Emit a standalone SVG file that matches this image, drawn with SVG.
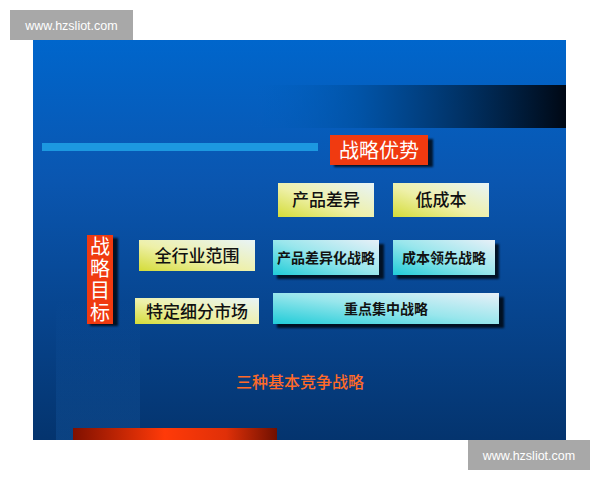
<svg xmlns="http://www.w3.org/2000/svg" width="600" height="480" viewBox="0 0 600 480">
<defs>
<linearGradient id="bg" x1="0" y1="0" x2="0" y2="1">
<stop offset="0" stop-color="#0066cc"/>
<stop offset="0.35" stop-color="#0a56b0"/>
<stop offset="1" stop-color="#04346e"/>
</linearGradient>
<linearGradient id="band" x1="0" y1="0" x2="1" y2="0">
<stop offset="0" stop-color="#0060c0" stop-opacity="0"/>
<stop offset="0.35" stop-color="#0050a0" stop-opacity="0.8"/>
<stop offset="1" stop-color="#000814"/>
</linearGradient>
<linearGradient id="yel" x1="0" y1="1" x2="1" y2="0">
<stop offset="0" stop-color="#d4dc38"/>
<stop offset="0.45" stop-color="#eef0a8"/>
<stop offset="1" stop-color="#e8f4f8"/>
</linearGradient>
<linearGradient id="cyan" x1="0" y1="1" x2="1" y2="0">
<stop offset="0" stop-color="#20ccd8"/>
<stop offset="0.5" stop-color="#98e6ec"/>
<stop offset="1" stop-color="#e8f0f8"/>
</linearGradient>
<linearGradient id="redbar" x1="0" y1="0" x2="1" y2="0">
<stop offset="0" stop-color="#801000"/>
<stop offset="0.45" stop-color="#ff3a08"/>
<stop offset="0.75" stop-color="#e03008"/>
<stop offset="1" stop-color="#701000"/>
</linearGradient>
<linearGradient id="strip" x1="0" y1="0" x2="0" y2="1">
<stop offset="0" stop-color="#2a80d8" stop-opacity="0"/>
<stop offset="1" stop-color="#2a80d8" stop-opacity="0.18"/>
</linearGradient>
<filter id="blur" x="-20%" y="-20%" width="140%" height="140%"><feGaussianBlur stdDeviation="1"/></filter>
</defs>
<style>
.cn{font-family:"Noto Sans CJK SC","Noto Sans",sans-serif;}
.lbl{font-size:17px;fill:#111;text-anchor:middle;font-weight:500;}
.sm{font-size:14px;fill:#111;text-anchor:middle;font-weight:bold;}
.red{fill:#f03a10;}
.shadow{fill:#000;opacity:0.75;}
.wm{fill:#a8a8a8;}
.wmt{font-family:"Liberation Sans",Arial,sans-serif;font-size:12.5px;fill:#fff;}
.vert{writing-mode:vertical-rl;text-orientation:upright;}
</style>
<rect width="600" height="480" fill="#fff"/>
<g id="slide">
<rect x="33" y="40" width="533" height="400" fill="url(#bg)"/>
<rect x="250" y="85" width="316" height="43" fill="url(#band)"/>
<rect x="56" y="300" width="84" height="140" fill="url(#strip)"/>
<rect x="42" y="143" width="276" height="8" fill="#1c98e0"/>
<rect x="73" y="428" width="204" height="12" fill="url(#redbar)"/>
</g>
<g id="watermarks">
<rect class="wm" x="10" y="10" width="123" height="30"/>
<text class="wmt" x="71.5" y="30" text-anchor="middle">www.hzsliot.com</text>
<rect class="wm" x="468" y="440" width="122" height="30"/>
<text class="wmt" x="529" y="460" text-anchor="middle">www.hzsliot.com</text>
</g>
<g id="connectors"/>
<g id="n-advantage">
<rect class="shadow" x="334" y="139" width="99" height="28" filter="url(#blur)"/>
<rect class="red" x="330" y="135" width="98" height="30"/>
<text class="cn" x="379" y="158" font-size="20" fill="#fff" text-anchor="middle">战略优势</text>
</g>
<g id="n-diff">
<rect x="278" y="183" width="96" height="34" fill="url(#yel)"/>
<text class="cn lbl" x="326" y="206">产品差异</text>
</g>
<g id="n-cost">
<rect x="393" y="183" width="96" height="34" fill="url(#yel)"/>
<text class="cn lbl" x="441" y="206">低成本</text>
</g>
<g id="n-target">
<rect class="shadow" x="90" y="238" width="28" height="88" filter="url(#blur)"/>
<rect class="red" x="87" y="235" width="26" height="89"/>
<text class="cn vert" x="100" y="280" font-size="20" fill="#fff" text-anchor="middle" letter-spacing="2">战略目标</text>
</g>
<g id="n-industry">
<rect x="139" y="240" width="116" height="31" fill="url(#yel)"/>
<text class="cn lbl" x="197" y="262">全行业范围</text>
</g>
<g id="n-segment">
<rect x="135" y="298" width="124" height="26" fill="url(#yel)"/>
<text class="cn lbl" x="197" y="318">特定细分市场</text>
</g>
<g id="n-diffstrat">
<rect class="shadow" x="277" y="244" width="107" height="35" filter="url(#blur)"/>
<rect x="273" y="240" width="106" height="35" fill="url(#cyan)"/>
<text class="cn sm" x="326" y="263">产品差异化战略</text>
</g>
<g id="n-coststrat">
<rect class="shadow" x="397" y="244" width="102" height="35" filter="url(#blur)"/>
<rect x="393" y="240" width="102" height="35" fill="url(#cyan)"/>
<text class="cn sm" x="444" y="263">成本领先战略</text>
</g>
<g id="n-focus">
<rect class="shadow" x="277" y="297" width="227" height="31" filter="url(#blur)"/>
<rect x="273" y="293" width="226" height="31" fill="url(#cyan)"/>
<text class="cn sm" x="386" y="314">重点集中战略</text>
</g>
<g id="caption">
<text class="cn" x="300" y="388" font-size="16" fill="#ff6a28" text-anchor="middle" font-weight="500">三种基本竞争战略</text>
</g>
</svg>
